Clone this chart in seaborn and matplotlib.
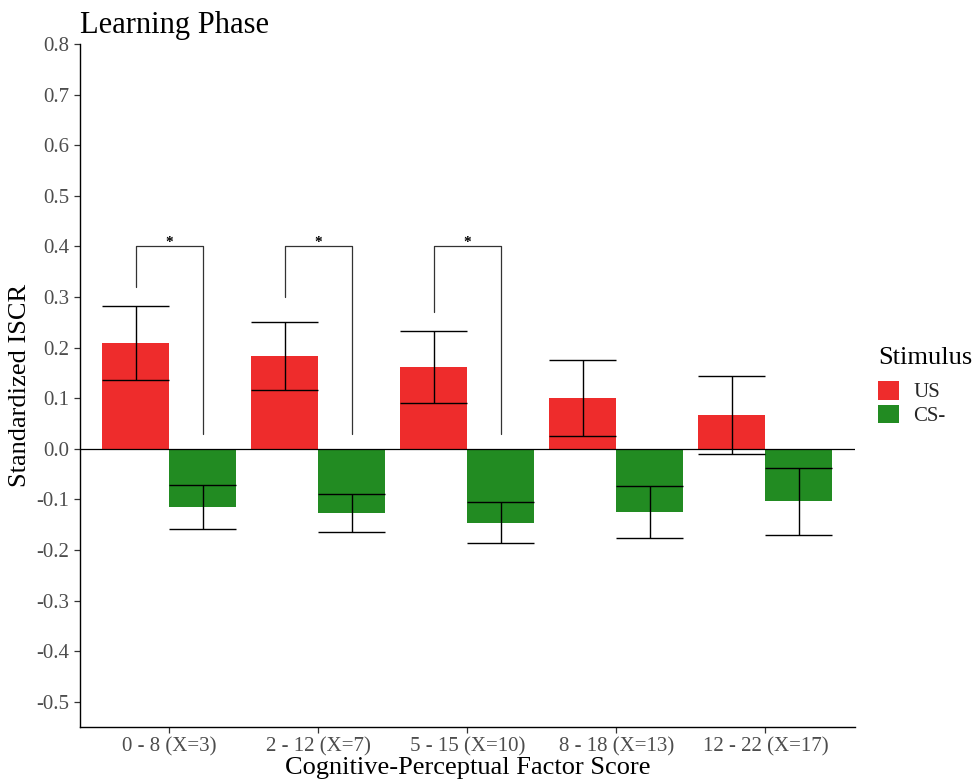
import matplotlib
matplotlib.use("Agg")
import matplotlib.pyplot as plt
import numpy as np
import pandas as pd
import seaborn as sns

# Group labels and per-stimulus means / standard errors
groups = ["0 - 8 (X=3)", "2 - 12 (X=7)", "5 - 15 (X=10)", "8 - 18 (X=13)", "12 - 22 (X=17)"]
stimuli = ["US", "CS-"]
us_mean = [0.209, 0.183, 0.161, 0.101, 0.066]
us_se = [0.074, 0.067, 0.071, 0.075, 0.077]
cs_mean = [-0.115, -0.127, -0.146, -0.125, -0.104]
cs_se = [0.044, 0.037, 0.041, 0.052, 0.066]

# Significance brackets: group index, left leg bottom, right leg bottom, top
sig_groups = [0, 1, 2]
sig_left_low = [0.32, 0.30, 0.27]
sig_right_low = [0.03, 0.03, 0.03]
sig_top = 0.40
sig_label = "*"

palette = {"US": "#EE2C2C", "CS-": "#228B22"}

df = pd.DataFrame({
    "group": groups * 2,
    "Stimulus": ["US"] * len(groups) + ["CS-"] * len(groups),
    "value": us_mean + cs_mean,
    "se": us_se + cs_se,
})

sns.set_theme(style="ticks")
plt.rcParams["font.family"] = ["Liberation Serif", "DejaVu Serif"]

fig = plt.figure(figsize=(9.77, 7.81), dpi=100)
ax = fig.add_axes([0.0819, 0.0691, 0.793, 0.8746])

sns.barplot(data=df, x="group", y="value", hue="Stimulus", hue_order=stimuli,
            order=groups, palette=palette, width=0.9, errorbar=None,
            saturation=1, linewidth=0, ax=ax, legend=True)

# Error bars with caps spanning each bar's width
centers = {}
for stim, cont in zip(stimuli, ax.containers):
    sub = df[df["Stimulus"] == stim].set_index("group").loc[groups]
    for i, (patch, m, s) in enumerate(zip(cont.patches, sub["value"], sub["se"])):
        x0 = patch.get_x()
        w = patch.get_width()
        xc = x0 + w / 2
        centers[(stim, i)] = xc
        ax.vlines(xc, m - s, m + s, color="black", lw=1.0, zorder=3)
        ax.hlines([m - s, m + s], x0, x0 + w, color="black", lw=1.0, zorder=3)

ax.axhline(0, color="black", lw=0.9, zorder=2)

# Significance brackets
for g, lo_l, lo_r in zip(sig_groups, sig_left_low, sig_right_low):
    xl = centers[("US", g)]
    xr = centers[("CS-", g)]
    ax.plot([xl, xl, xr, xr], [lo_l, sig_top, sig_top, lo_r], color="#333333", lw=0.9, zorder=3)
    ax.text((xl + xr) / 2, sig_top - 0.006, sig_label, ha="center", va="bottom",
            fontsize=11, fontweight="bold", color="black")

ax.set_ylim(-0.55, 0.8)
ax.set_xlim(-0.6, len(groups) - 0.4)
yticks = np.round(np.arange(-0.5, 0.81, 0.1), 1)
ax.set_yticks(yticks)
ax.set_yticklabels([f"{t:.1f}" if abs(t) > 1e-9 else "0.0" for t in yticks])

for sp in ["top", "right"]:
    ax.spines[sp].set_visible(False)
for sp in ["left", "bottom"]:
    ax.spines[sp].set_color("black")
    ax.spines[sp].set_linewidth(1.0)

ax.tick_params(axis="both", labelsize=15, labelcolor="#4D4D4D", color="#333333",
               length=4, width=0.9, direction="out")

ax.set_xlabel("Cognitive-Perceptual Factor Score", fontsize=19, labelpad=0, color="black")
ax.set_ylabel("Standardized ISCR", fontsize=19, labelpad=4, color="black")
ax.set_title("Learning Phase", loc="left", fontsize=22, pad=8, color="black")

# Legend: title placed above the key entries
fig.text(0.8987, 1 - 358 / 781, "Stimulus", fontsize=19, ha="left", va="center", color="black")
leg = ax.legend(loc="upper left", bbox_to_anchor=(0.8987, 1 - 381 / 781),
                bbox_transform=fig.transFigure, frameon=False, fontsize=15,
                handlelength=1.0, handleheight=1.0, labelspacing=0.1,
                handletextpad=0.7, borderpad=0.0, borderaxespad=0.0)

fig.savefig("out.png", dpi=100)
